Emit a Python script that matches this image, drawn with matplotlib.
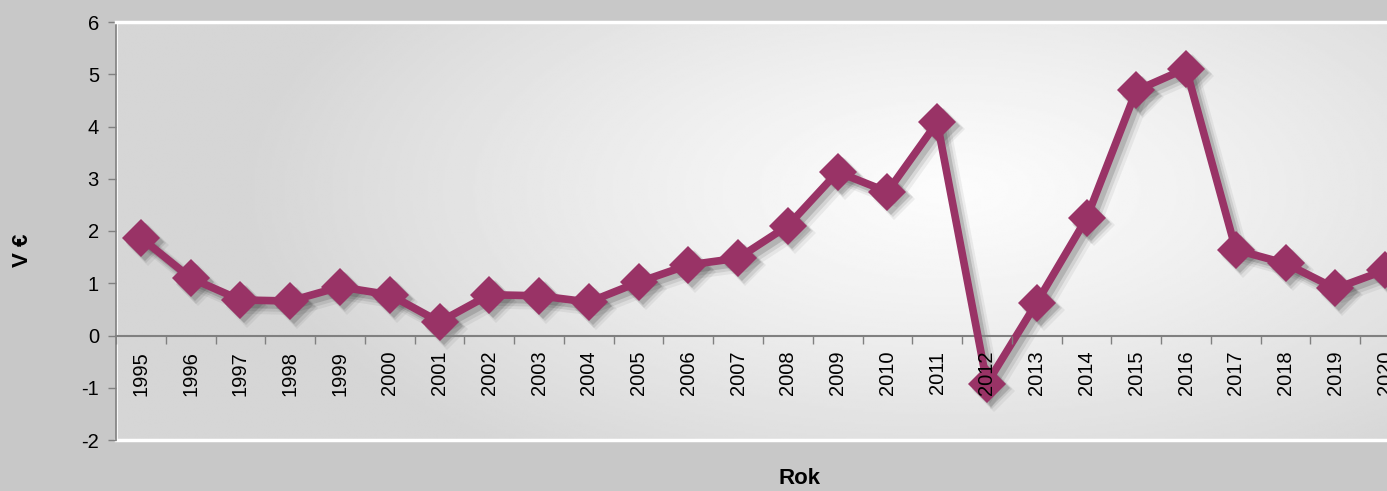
import numpy as np
import matplotlib.pyplot as plt
from matplotlib.transforms import ScaledTranslation

plt.rcParams['font.family'] = ['Liberation Sans', 'DejaVu Sans']
plt.rcParams['axes.unicode_minus'] = False

# Yearly values (EUR)
years = [str(y) for y in range(1995, 2021)]
values = [1.87, 1.10, 0.68, 0.66, 0.93, 0.78, 0.26, 0.78, 0.76, 0.64,
          1.02, 1.35, 1.48, 2.10, 3.13, 2.75, 4.08, -0.92, 0.63, 2.24,
          4.69, 5.11, 1.64, 1.38, 0.90, 1.25]
y_ticks = [-2, -1, 0, 1, 2, 3, 4, 5, 6]

W, H = 1387, 491
fig = plt.figure(figsize=(W / 100, H / 100), dpi=100, facecolor='#c8c8c8')

# plot area in pixels: left 116, right ~1410 (runs past the edge), top 22, bottom 440
left, right, top, bottom = 116, 1410, 22, 440
ax = fig.add_axes([left / W, (H - bottom) / H, (right - left) / W, (bottom - top) / H])
ax.set_facecolor('#dadada')

x = np.arange(len(years))
ax.set_xlim(-0.5, len(years) - 0.5)
ax.set_ylim(-2, 6)

# soft radial highlight in the plot area
gx, gy = np.meshgrid(np.linspace(left, right, 600), np.linspace(top, bottom, 200))
d = np.sqrt(((gx - 950) / 700) ** 2 + ((gy - 190) / 330) ** 2)
d = np.clip(d, 0, 1)
shade = (252 - 38 * d ** 1.2) / 255
ax.imshow(shade, cmap='gray', vmin=0, vmax=1, aspect='auto', zorder=0,
          extent=[-0.5, len(years) - 0.5, -2, 6], origin='upper', interpolation='bilinear')

# drop shadow under the series
for k, (dx, a) in enumerate([(7, 0.07), (5.5, 0.11), (4, 0.18)]):
    off = ax.transData + ScaledTranslation(dx / 100, -dx / 100, fig.dpi_scale_trans)
    ax.plot(x, values, color='#303030', alpha=a, lw=6 + 2 * (2 - k), marker='D',
            ms=19 + (2 - k), mew=0, transform=off, zorder=2, solid_joinstyle='miter')

ax.plot(x, values, color='#993366', lw=5.5, marker='D', ms=19, mew=0,
        zorder=3, solid_joinstyle='miter')

# axes styling
ax.spines['bottom'].set_position(('data', 0))
ax.spines['bottom'].set_color('#808080')
ax.spines['bottom'].set_linewidth(1.5)
ax.spines['left'].set_color('#808080')
ax.spines['left'].set_linewidth(1.2)
ax.spines['right'].set_visible(False)
ax.spines['top'].set_color('white')
ax.spines['top'].set_linewidth(2.5)
ax.axhline(-2, color='white', lw=2.5, zorder=1, clip_on=False)
ax.plot([-0.48, -0.48], [-1.98, 5.98], color='white', lw=1.2, zorder=1)

ax.set_yticks(y_ticks)
ax.tick_params(axis='y', direction='out', length=5.8, width=1, color='#808080',
               labelsize=14.5, pad=6.5)
ax.set_xticks(x)
ax.set_xticklabels(years, rotation=90)
ax.set_xticks(np.arange(-0.5, len(years), 1), minor=True)
ax.tick_params(axis='x', which='major', length=0, labelsize=14.5, pad=11)
ax.tick_params(axis='x', which='minor', direction='out', length=6, width=1, color='#808080')
for lbl in ax.get_xticklabels():
    lbl.set_verticalalignment('top')
# year labels sit above the series (2012 label shows over its marker)
ax.xaxis.set_zorder(4)

fig.text(22 / W, 1 - 250 / H, 'V €', rotation=90, fontsize=16, fontweight='bold',
         ha='center', va='center')
fig.text(800 / W, 1 - 478 / H, 'Rok', fontsize=16, fontweight='bold',
         ha='center', va='center')

fig.savefig('out.png', dpi=100, facecolor=fig.get_facecolor())
